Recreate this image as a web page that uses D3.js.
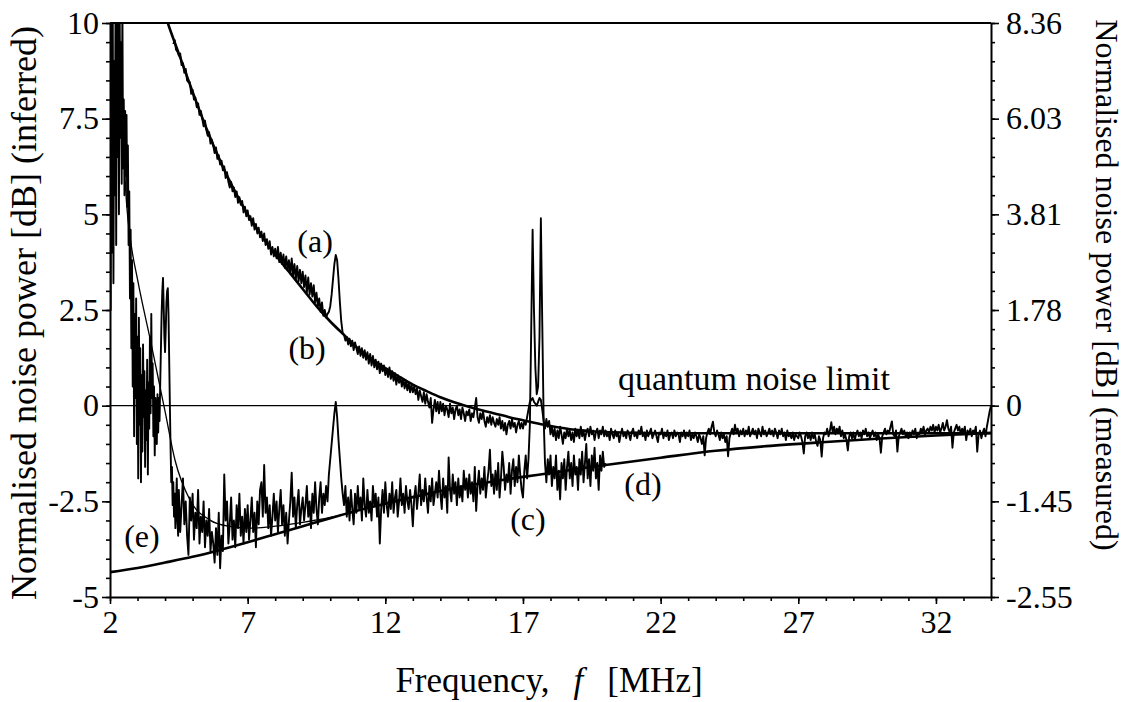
<!DOCTYPE html>
<html>
<head>
<meta charset="utf-8">
<script src="https://cdn.jsdelivr.net/npm/d3@7"></script>
<style>
  body { margin: 0; background: #fff; }
  text { font-family: "Liberation Serif", "Times New Roman", serif; fill: black; }
</style>
</head>
<body>
<svg width="1127" height="702" font-family="Liberation Serif"></svg>
<script>

// axis ticks
const xTicks = [2, 7, 12, 17, 22, 27, 32];
const leftTicks = [10, 7.5, 5, 2.5, 0, -2.5, -5];
const leftLabels = ["10", "7.5", "5", "2.5", "0", "-2.5", "-5"];
const rightLabels = ["8.36", "6.03", "3.81", "1.78", "0", "-1.45", "-2.55"];

// (b) smooth theory curve above the limit
const freqB = [3.9, 4.1, 4.5, 5.0, 5.5, 6.0, 6.5, 7.0, 7.5, 8.0, 8.5, 9.0, 9.5, 10.0, 10.5, 11.0, 11.5, 12.0, 12.5, 13.0,
    13.5, 14.0, 14.5, 15.0, 15.5, 16.0, 16.5, 17.0, 17.5, 18.0, 18.5, 19.0, 19.5, 20.0, 21.0, 22.0, 24.0, 26.0, 28.0, 30.0, 32.0, 34.0];
const valB = [10.45, 10.0, 9.2, 8.2, 7.25, 6.4, 5.65, 5.0, 4.45, 3.95, 3.5, 3.05, 2.6, 2.2, 1.85, 1.5, 1.22, 0.98, 0.76, 0.55,
    0.38, 0.22, 0.09, -0.02, -0.12, -0.21, -0.3, -0.38, -0.46, -0.53, -0.59, -0.64, -0.67, -0.69, -0.71, -0.72, -0.72, -0.72, -0.72, -0.72, -0.72, -0.72];

// (d) smooth theory curve below the limit
const freqD = [2, 3, 4, 5, 6, 7, 8, 9, 10, 11, 12, 13, 14, 15, 16, 17, 18, 19, 20, 22, 24, 26, 28, 30, 32, 34];
const valD = [-4.35, -4.24, -4.1, -3.95, -3.77, -3.57, -3.36, -3.15, -2.94, -2.74, -2.56, -2.39, -2.23, -2.09, -1.97, -1.86,
    -1.76, -1.65, -1.55, -1.36, -1.18, -1.05, -0.95, -0.86, -0.78, -0.71];

// (e) thin theory curve at low frequency
const freqE = [2.3, 2.4, 2.5, 2.6, 2.75, 3.0, 3.5, 4.0, 4.36, 4.9, 5.63, 6.3, 7.1, 8.0, 9.0, 10.0, 11.0];
const valE = [10.5, 8.3, 6.6, 5.3, 4.3, 3.3, 1.6, -0.15, -1.42, -2.46, -2.99, -3.15, -3.2, -3.15, -3.05, -2.92, -2.74];

// (a) measured trace, 4.30 .. 34.00 MHz, every 0.05 MHz (one row per MHz)
const startA = 4.3, stepA = 0.05;
const traceA = [
    9.45, 9.55, 9.3, 9.25, 9.15, 9.2, 8.9, 8.95, 8.7, 8.8, 8.5, 8.45, 8.45, 8.15,
    8.25, 8.0, 8.05, 7.8, 7.9, 7.6, 7.7, 7.5, 7.3, 7.45, 7.2, 7.05, 7.15, 6.85, 6.95, 6.8, 6.6, 6.75, 6.45, 6.55,
    6.3, 6.4, 6.15, 6.25, 5.95, 6.1, 5.85, 5.7, 5.85, 5.6, 5.7, 5.45, 5.6, 5.3, 5.45, 5.25, 5.35, 5.05, 5.2, 4.95,
    5.1, 4.85, 4.95, 4.7, 4.9, 4.6, 4.75, 4.5, 4.65, 4.4, 4.55, 4.3, 4.5, 4.2, 4.35, 4.1, 4.3, 3.95, 4.15, 3.9,
    4.1, 3.85, 4.15, 3.75, 4.0, 3.7, 3.95, 3.6, 3.9, 3.55, 3.8, 3.45, 3.85, 3.4, 3.7, 3.3, 3.65, 3.25, 3.55, 3.2,
    3.5, 3.1, 3.4, 2.95, 3.35, 2.9, 3.2, 2.85, 3.15, 2.7, 2.95, 2.6, 2.8, 2.45, 2.7, 2.35, 2.5, 2.3, 2.4, 2.45,
    2.6, 2.9, 3.3, 3.7, 3.94, 3.8, 3.3, 2.7, 2.2, 1.9, 1.85, 1.7, 1.8, 1.6, 1.75, 1.55, 1.7, 1.45, 1.65, 1.5,
    1.35, 1.55, 1.3, 1.5, 1.25, 1.45, 1.2, 1.4, 1.1, 1.35, 1.05, 1.3, 1.0, 1.2, 0.95, 1.15, 0.85, 1.1, 0.9, 1.05,
    0.8, 0.95, 0.75, 1.0, 0.7, 0.9, 0.65, 0.85, 0.55, 0.8, 0.6, 0.75, 0.5, 0.7, 0.45, 0.65, 0.4, 0.6, 0.35, 0.55,
    0.35, 0.5, 0.3, 0.45, 0.15, 0.4, 0.25, 0.1, 0.35, 0.05, 0.3, 0.1, -0.05, 0.2, -0.45, -0.1, 0.15, -0.15, 0.1, -0.2,
    0.1, -0.15, 0.05, -0.25, 0.0, -0.1, -0.3, 0.05, -0.2, -0.05, -0.35, -0.1, 0.0, -0.25, -0.1, -0.35, -0.05, -0.2, -0.4, -0.15,
    -0.25, -0.1, -0.4, -0.2, -0.3, -0.05, 0.2, -0.3, -0.45, -0.2, -0.35, -0.15, -0.4, -0.55, -0.3, -0.45, -0.25, -0.5, -0.3, -0.45,
    -0.55, -0.35, -0.5, -0.3, -0.6, -0.4, -0.65, -0.45, -0.75, -0.5, -0.4, -0.6, -0.35, -0.55, -0.45, -0.7, -0.5, -0.4, -0.6, -0.45,
    -0.6, -0.4, -0.5, -0.3, -0.1, 0.1, 0.15, 0.2, 0.1, 0.05, 0.0, 0.1, 0.2, 0.15, -0.1, -0.4, -0.6, -0.35, -0.55, -0.4,
    -0.75, -0.55, -0.8, -0.6, -0.9, -0.65, -0.85, -0.55, -0.75, -1.0, -0.7, -0.85, -0.6, -0.8, -0.65, -0.9, -0.7, -0.95, -0.6, -0.8,
    -0.65, -0.85, -0.55, -0.8, -0.65, -0.9, -0.7, -0.6, -0.8, -0.55, -0.75, -0.65, -0.9, -0.7, -0.6, -0.85, -0.65, -0.75, -0.55, -0.8,
    -0.65, -0.8, -0.7, -0.9, -0.6, -0.75, -0.85, -0.65, -0.8, -0.7, -0.95, -0.75, -0.6, -0.8, -0.7, -0.85, -0.65, -0.75, -0.9, -0.7,
    -0.6, -0.8, -0.7, -0.85, -0.65, -0.75, -0.55, -0.8, -0.7, -0.9, -0.65, -0.8, -0.7, -0.6, -0.85, -0.75, -0.65, -0.8, -0.95, -0.7,
    -0.75, -0.6, -0.85, -0.7, -0.8, -0.65, -0.9, -0.75, -0.7, -0.85, -0.65, -0.8, -0.7, -0.75, -0.95, -0.7, -0.8, -0.65, -0.85, -0.7,
    -0.8, -0.65, -0.9, -0.75, -0.85, -0.7, -0.8, -0.95, -0.75, -0.85, -1.0, -0.8, -1.3, -0.85, -0.7, -0.6, -0.75, -0.55, -0.42, -0.7,
    -0.8, -0.65, -0.75, -0.9, -0.7, -0.85, -0.75, -0.95, -0.8, -1.32, -0.85, -0.7, -0.6, -0.75, -0.5, -0.7, -0.6, -0.8, -0.65, -0.75,
    -0.6, -0.8, -0.65, -0.75, -0.55, -0.8, -0.7, -0.6, -0.75, -0.65, -0.85, -0.6, -0.7, -0.8, -0.55, -0.75, -0.65, -0.8, -0.7, -0.6,
    -0.75, -0.65, -0.8, -0.6, -0.7, -0.85, -0.65, -0.75, -0.6, -0.8, -0.7, -0.9, -0.65, -0.8, -0.75, -0.85, -0.7, -0.9, -0.75, -0.8,
    -0.85, -0.7, -0.8, -0.95, -1.25, -0.8, -0.7, -0.85, -0.75, -0.9, -0.7, -0.85, -0.75, -0.95, -1.05, -0.8, -0.9, -1.33, -0.85, -0.7,
    -0.75, -0.6, -0.8, -0.65, -0.43, -0.7, -0.55, -0.75, -0.6, -0.7, -0.55, -0.8, -0.65, -0.85, -0.75, -0.9, -1.17, -0.8, -0.7, -0.85,
    -0.7, -0.9, -0.75, -0.65, -0.8, -0.7, -0.85, -0.65, -0.75, -0.6, -0.8, -0.7, -0.85, -0.75, -0.65, -0.8, -0.7, -0.9, -0.75, -0.85,
    -1.23, -0.8, -0.7, -0.6, -0.75, -0.65, -0.7, -0.55, -0.41, -0.75, -0.8, -0.65, -1.2, -0.8, -0.7, -0.6, -0.75, -0.65, -0.8, -0.7,
    -0.85, -0.7, -0.8, -0.65, -0.75, -0.6, -0.85, -0.7, -0.75, -0.6, -0.7, -0.55, -0.75, -0.65, -0.6, -0.7, -0.55, -0.65, -0.5, -0.7,
    -0.55, -0.65, -0.5, -0.7, -0.6, -0.45, -0.65, -0.55, -0.38, -0.6, -0.7, -0.55, -1.1, -0.7, -0.6, -0.5, -0.65, -0.55, -0.75, -0.6,
    -0.7, -0.55, -0.9, -0.65, -0.75, -0.6, -0.8, -0.65, -0.7, -0.55, -1.2, -0.75, -0.65, -0.85, -0.7, -0.6, -0.8, -0.55, -0.35, -0.15,
    0.0
];

// (c) measured trace, 2.000 .. 4.475 MHz every 0.025 MHz
const startC1 = 2.0, stepC1 = 0.025;
const traceC1 = [
    10.5, 2.5, 10.5, 4.0, 10.5, 3.2, 9.0, 5.5, 10.5, 4.2, 10.5, 6.5, 10.5, 5.0, 10.5, 7.0, 9.5, 5.8, 10.5, 6.2,
    8.0, 5.5, 7.7, 6.0, 7.6, 5.2, 6.8, 4.2, 5.6, 2.8, 4.6, 1.5, 3.8, 0.5, 3.2, -0.8, 2.4, 0.2, 2.8, -1.0,
    1.8, -1.9, 2.3, -0.5, 1.5, -2.0, 0.8, -1.2, 1.6, -0.3, 0.9, -1.6, 0.4, -0.9, 1.2, -1.8, 0.6, -0.6, 1.8, -0.2,
    2.4, 0.2, 1.1, -0.8, 0.5, -1.3, 0.2, -0.5, -1.0, 0.3, -0.7, 0.2, -0.4, 0.6, 1.5, 2.4, 3.0, 3.34, 2.6, 1.8,
    1.4, 2.0, 2.7, 3.0, 3.07, 2.4, 1.2, 0.0, -1.1, -2.0, -1.6, -2.6, -2.0, -2.9, -2.3, -3.2, -2.5, -1.9, -3.0, -3.4
];
// (c) measured trace, 4.50 .. 20.00 MHz every 0.05 MHz
const startC2 = 4.5, stepC2 = 0.05;
const traceC2 = [
    -2.2, -3.3, -2.6, -1.9, -3.1, -2.5, -3.4, -3.9, -2.4, -3.0,
    -2.3, -3.5, -2.8, -3.2, -2.2, -3.6, -2.9, -3.3, -2.5, -3.7, -3.0, -3.4, -2.7, -3.8, -3.3, -3.6, -4.1, -3.2, -3.9, -2.8,
    -4.25, -3.4, -3.8, -1.8, -3.0, -2.5, -3.6, -3.1, -2.4, -3.5, -3.0, -3.7, -2.6, -3.2, -2.3, -3.4, -2.9, -3.6, -2.7, -3.3,
    -2.6, -3.5, -3.0, -2.4, -3.3, -2.8, -3.7, -2.5, -3.1, -2.2, -2.0, -2.9, -1.55, -2.8, -2.4, -3.2, -2.6, -3.4, -2.9, -2.3,
    -3.0, -2.5, -3.3, -2.7, -2.2, -3.1, -2.6, -3.4, -2.8, -3.6, -3.0, -2.5, -1.75, -2.9, -2.4, -3.2, -2.6, -2.2, -3.1, -2.7,
    -2.4, -3.0, -2.6, -2.1, -2.9, -2.5, -3.2, -2.3, -2.8, -2.0, -2.7, -3.1, -2.4, -2.0, -2.8, -2.3, -2.6, -2.1, -2.5, -1.8,
    -1.4, -1.0, -0.6, -0.2, 0.1, -0.3, -0.9, -1.4, -1.9, -2.3, -2.6, -2.1, -2.9, -2.4, -3.0, -2.2, -2.7, -3.1, -2.3, -2.8,
    -2.1, -2.7, -2.4, -3.0, -1.9, -2.6, -2.9, -2.2, -2.8, -2.5, -3.0, -2.1, -2.6, -2.3, -2.9, -2.4, -3.6, -2.7, -2.2, -2.8,
    -2.0, -2.6, -2.9, -2.3, -2.7, -2.0, -2.8, -2.4, -2.2, -2.9, -2.5, -1.9, -2.6, -2.3, -2.8, -2.1, -2.5, -2.7, -2.2, -2.6,
    -3.15, -2.4, -2.1, -2.7, -2.3, -1.8, -2.6, -2.2, -2.5, -1.9, -2.4, -2.8, -2.1, -2.5, -1.9, -2.6, -2.3, -2.0, -2.4, -1.7,
    -2.3, -2.7, -1.9, -2.4, -2.1, -2.8, -1.35, -2.2, -2.5, -1.8, -2.3, -2.0, -2.6, -1.9, -2.4, -2.1, -2.5, -1.7, -2.2, -1.9,
    -2.4, -1.8, -2.3, -2.0, -2.5, -1.6, -2.75, -2.1, -1.7, -2.3, -1.9, -2.2, -1.6, -2.4, -2.0, -1.7, -1.15, -2.1, -1.8, -2.3,
    -1.7, -2.2, -1.5, -2.4, -1.9, -1.2, -1.6, -2.2, -1.8, -2.0, -1.5, -2.3, -1.7, -1.4, -2.1, -1.6, -2.0, -1.3, -1.8, -2.2,
    -2.4, -1.7, -1.3, -1.9, -1.4, -0.5, 2.0, 4.6, 2.5, 1.0, 0.3, 0.5, 1.8, 4.9, 2.2, -0.3, -1.5, -2.0, -1.4, -1.8,
    -1.3, -2.1, -1.6, -1.9, -1.3, -2.2, -1.7, -2.45, -1.5, -1.9, -1.4, -2.2, -1.6, -1.2, -1.9, -1.5, -2.1, -1.3, -1.8, -1.6,
    -2.2, -1.4, -1.8, -1.2, -2.0, -1.5, -1.0, -1.9, -1.4, -2.1, -1.3, -1.7, -1.1, -1.9, -1.5, -2.2, -1.3, -1.7, -1.2, -1.6,
    -1.5
];

const chart = () => {

    const width = 1127;
    const height = 702;
    const margin = {
        top: 23,
        right: 136,
        bottom: 105,
        left: 110
    };

    var svg = d3.select('svg');

    var x = d3.scaleLinear()
        .domain([2, 34])
        .range([margin.left, width - margin.right]);

    var y = d3.scaleLinear()
        .domain([-5, 10])
        .range([height - margin.bottom, margin.top]);

    // series as [f, value] pairs
    const zip = (fs, vs) => vs.map((v, i) => [fs[i], v]);
    const grid = (start, step, vs) => vs.map((v, i) => [start + i * step, v]);

    const seriesB = zip(freqB, valB);
    const seriesD = zip(freqD, valD);
    const seriesE = zip(freqE, valE);
    const seriesA = grid(startA, stepA, traceA);
    const seriesC = grid(startC1, stepC1, traceC1).concat(grid(startC2, stepC2, traceC2));

    svg.append("defs").append("clipPath")
        .attr("id", "plot")
      .append("rect")
        .attr("x", x(2))
        .attr("y", y(10))
        .attr("width", x(34) - x(2))
        .attr("height", y(-5) - y(10));

    var line = d3.line()
        .x(d => x(d[0]))
        .y(d => y(d[1]));

    var smooth = d3.line()
        .x(d => x(d[0]))
        .y(d => y(d[1]))
        .curve(d3.curveMonotoneX);

    var plot = svg.append("g")
        .attr("clip-path", "url(#plot)")
        .attr("fill", "none")
        .attr("stroke", "black")
        .attr("stroke-linejoin", "round");

    // quantum noise limit
    plot.append("line")
        .attr("x1", x(2))
        .attr("x2", x(34))
        .attr("y1", y(0))
        .attr("y2", y(0))
        .attr("stroke-width", 1.2);

    plot.append("path")
        .datum(seriesC)
        .attr("stroke-width", 1.9)
        .attr("d", line);

    plot.append("path")
        .datum(seriesA)
        .attr("stroke-width", 1.9)
        .attr("d", line);

    plot.append("path")
        .datum(seriesE)
        .attr("stroke-width", 1.3)
        .attr("d", smooth);

    plot.append("path")
        .datum(seriesB)
        .attr("stroke-width", 2.6)
        .attr("d", smooth);

    plot.append("path")
        .datum(seriesD)
        .attr("stroke-width", 2.6)
        .attr("d", smooth);

    // frame on top
    svg.append("line")
        .attr("x1", x(2))
        .attr("x2", x(34))
        .attr("y1", y(10))
        .attr("y2", y(10))
        .attr("stroke", "black")
        .attr("stroke-width", 2);

    // axes
    const styleAxis = g => {
        g.attr("font-family", null).attr("font-size", null);
        g.select(".domain").attr("stroke-width", 2);
        g.selectAll(".tick line").attr("stroke-width", 1.6);
        g.selectAll(".tick text").style("font-size", "32px");
    };
    const minorAxis = g => {
        g.select(".domain").remove();
        g.selectAll(".tick line").attr("stroke-width", 1.6);
    };

    svg.append("g")
        .attr("transform", `translate(0,${y(-5)})`)
        .call(d3.axisBottom(x).tickValues(d3.range(2, 35, 1)).tickSize(4).tickFormat("").tickSizeOuter(0))
        .call(minorAxis);

    svg.append("g")
        .attr("transform", `translate(0,${y(-5)})`)
        .call(d3.axisBottom(x).tickValues(xTicks).tickSize(7).tickPadding(6).tickSizeOuter(0))
        .call(styleAxis);

    svg.append("g")
        .attr("transform", `translate(${x(2)},0)`)
        .call(d3.axisLeft(y).tickValues(d3.range(-5, 10.01, 0.5)).tickSize(4).tickFormat("").tickSizeOuter(0))
        .call(minorAxis);

    svg.append("g")
        .attr("transform", `translate(${x(2)},0)`)
        .call(d3.axisLeft(y).tickValues(leftTicks).tickFormat((d, i) => leftLabels[i])
            .tickSize(8).tickPadding(3).tickSizeOuter(0))
        .call(styleAxis);

    svg.append("g")
        .attr("transform", `translate(${x(34)},0)`)
        .call(d3.axisRight(y).tickValues(d3.range(-5, 10.01, 0.5)).tickSize(4).tickFormat("").tickSizeOuter(0))
        .call(minorAxis);

    svg.append("g")
        .attr("transform", `translate(${x(34)},0)`)
        .call(d3.axisRight(y).tickValues(leftTicks).tickFormat((d, i) => rightLabels[i])
            .tickSize(8).tickPadding(7).tickSizeOuter(0))
        .call(styleAxis);

    // curve labels
    const labels = [
        {text: "(a)", f: 9.45, v: 4.02},
        {text: "(b)", f: 9.16, v: 1.22},
        {text: "(c)", f: 17.18, v: -3.25},
        {text: "(d)", f: 21.36, v: -2.33},
        {text: "(e)", f: 3.16, v: -3.69}
    ];

    svg.append("g")
        .attr("text-anchor", "middle")
        .style("font-size", "32px")
    .selectAll("text")
    .data(labels)
    .enter().append("text")
        .attr("x", d => x(d.f))
        .attr("y", d => y(d.v))
        .text(d => d.text);

    svg.append("text")
        .attr("x", x(20.45))
        .attr("y", y(0.41))
        .style("font-size", "34px")
        .text("quantum noise limit");

    // axis titles
    var xTitle = svg.append("text")
        .attr("x", 549)
        .attr("y", 692)
        .attr("text-anchor", "middle")
        .style("font-size", "35px");
    xTitle.append("tspan").text("Frequency,");
    xTitle.append("tspan").attr("dx", 24).style("font-style", "italic").text("f");
    xTitle.append("tspan").attr("dx", 24).text("[MHz]");

    svg.append("text")
        .attr("transform", `translate(36,${(y(10) + y(-5)) / 2 + 3}) rotate(-90)`)
        .attr("text-anchor", "middle")
        .style("font-size", "36px")
        .text("Normalised noise power [dB] (inferred)");

    svg.append("text")
        .attr("transform", `translate(1096,${(y(10) + y(-5)) / 2 - 25}) rotate(90)`)
        .attr("text-anchor", "middle")
        .style("font-size", "32px")
        .text("Normalised noise power [dB] (measured)");
};

chart();
</script>
</body>
</html>
